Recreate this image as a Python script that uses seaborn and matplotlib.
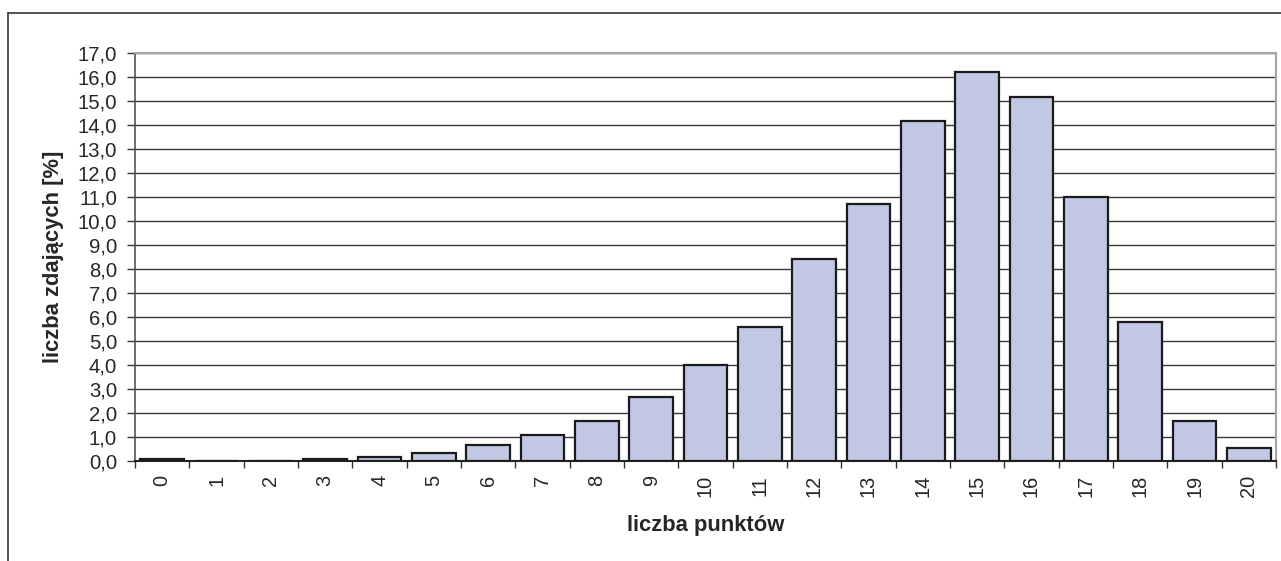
import matplotlib
matplotlib.use("Agg")
import matplotlib.pyplot as plt
from matplotlib.lines import Line2D
from matplotlib.ticker import FixedLocator, FuncFormatter
import seaborn as sns
import pandas as pd

# data
points = [str(i) for i in range(21)]
percent = [0.08, 0.0, 0.0, 0.08, 0.15, 0.32, 0.67, 1.07, 1.65, 2.65, 3.98,
           5.58, 8.4, 10.72, 14.15, 16.22, 15.15, 11.0, 5.8, 1.65, 0.55]
x_label = "liczba punktów"
y_label = "liczba zdających [%]"

df = pd.DataFrame({"pkt": points, "proc": percent})

sns.set_style("white")
plt.rcParams["font.family"] = ["Liberation Sans", "DejaVu Sans"]

fig = plt.figure(figsize=(12.81, 5.61), dpi=100)
ax = fig.add_axes([135 / 1281, 1 - 461 / 561, (1276 - 135) / 1281, (461 - 53) / 561])

sns.barplot(data=df, x="pkt", y="proc", order=points, color="#c0c8e4",
            edgecolor="#1a1a1a", linewidth=1.6, width=0.8, saturation=1,
            ax=ax, zorder=3)

ax.set_xlim(-0.5, 20.5)
ax.set_ylim(0, 17)
ax.set_yticks(range(0, 18))
ax.yaxis.set_major_formatter(FuncFormatter(lambda v, p: f"{v:.1f}".replace(".", ",")))
ax.grid(axis="y", color="#3a3a3a", linewidth=1.0, zorder=0)
ax.set_axisbelow(True)

# category boundaries get the x tick marks, labels sit at the centres
ax.xaxis.set_minor_locator(FixedLocator([i - 0.5 for i in range(22)]))
ax.tick_params(axis="x", which="major", length=0, pad=10, labelsize=14.4, labelrotation=90)
ax.tick_params(axis="x", which="minor", length=5, width=1, color="#333333", direction="out")
ax.tick_params(axis="y", length=6, width=1, color="#333333", direction="out", pad=7, labelsize=14.6)
ax.tick_params(bottom=True, left=True, which="both")
ax.tick_params(axis="x", which="major", bottom=False)

for side in ["top", "right"]:
    ax.spines[side].set_color("#aaa2a2")
    ax.spines[side].set_linewidth(1.5)
ax.spines["left"].set_color("#5a5050")
ax.spines["left"].set_linewidth(1.2)
ax.spines["bottom"].set_color("#222222")
ax.spines["bottom"].set_linewidth(1.5)

ax.set_xlabel(x_label, fontsize=15.8, fontweight="bold", labelpad=13)
ax.set_ylabel(y_label, fontsize=15.8, fontweight="bold", labelpad=10)

# outer chart frame (top and left edges visible)
fig.add_artist(Line2D([8 / 1281, 1.0], [1 - 13 / 561, 1 - 13 / 561],
                      transform=fig.transFigure, color="#333333", linewidth=1.2))
fig.add_artist(Line2D([8 / 1281, 8 / 1281], [1 - 13 / 561, 0.0],
                      transform=fig.transFigure, color="#333333", linewidth=1.2))

fig.savefig("out.png", dpi=100)
